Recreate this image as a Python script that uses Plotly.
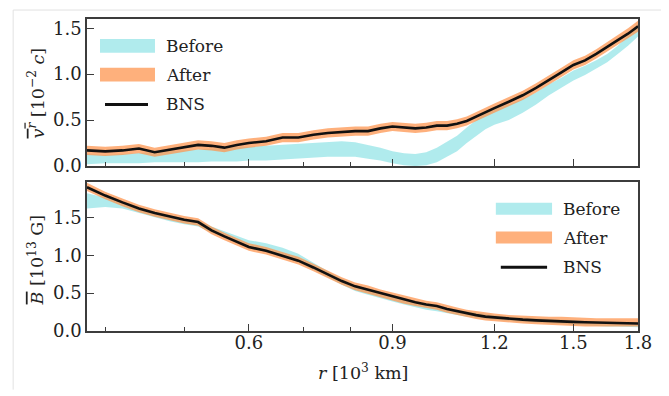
import plotly.graph_objects as go
import math

# ---------------- data ----------------
r = [0.38, 0.40, 0.42, 0.44, 0.46, 0.48, 0.50, 0.52, 0.54, 0.56, 0.58, 0.60,
     0.63, 0.66, 0.69, 0.72, 0.75, 0.78, 0.81, 0.84, 0.87, 0.90, 0.93, 0.96,
     0.99, 1.02, 1.05, 1.08, 1.11, 1.14, 1.17, 1.20, 1.25, 1.30, 1.35, 1.40,
     1.45, 1.50, 1.55, 1.60, 1.65, 1.70, 1.75, 1.80]

# top panel: mean radial velocity [1e-2 c]
v_bns = [0.17, 0.16, 0.17, 0.19, 0.15, 0.18, 0.21, 0.23, 0.22, 0.20, 0.23, 0.25,
         0.27, 0.31, 0.31, 0.34, 0.36, 0.37, 0.38, 0.38, 0.41, 0.43, 0.42, 0.41,
         0.42, 0.44, 0.44, 0.46, 0.49, 0.54, 0.58, 0.63, 0.70, 0.77, 0.85, 0.94,
         1.02, 1.10, 1.15, 1.22, 1.30, 1.37, 1.44, 1.52]
v_after_lo = [0.12, 0.11, 0.12, 0.14, 0.10, 0.13, 0.16, 0.18, 0.17, 0.15, 0.18, 0.20,
              0.22, 0.26, 0.26, 0.29, 0.31, 0.32, 0.33, 0.33, 0.36, 0.38, 0.37, 0.36,
              0.37, 0.39, 0.39, 0.41, 0.44, 0.49, 0.53, 0.58, 0.65, 0.72, 0.80, 0.89,
              0.97, 1.05, 1.10, 1.17, 1.25, 1.32, 1.39, 1.46]
v_after_hi = [0.22, 0.21, 0.22, 0.24, 0.20, 0.23, 0.26, 0.28, 0.27, 0.25, 0.28, 0.30,
              0.32, 0.36, 0.36, 0.39, 0.41, 0.42, 0.43, 0.43, 0.46, 0.48, 0.47, 0.46,
              0.47, 0.49, 0.49, 0.51, 0.54, 0.59, 0.63, 0.68, 0.75, 0.82, 0.90, 0.99,
              1.07, 1.15, 1.20, 1.27, 1.35, 1.42, 1.50, 1.58]
v_before_lo = [0.02, 0.03, 0.03, 0.03, 0.04, 0.04, 0.04, 0.04, 0.05, 0.05, 0.05, 0.06,
               0.06, 0.07, 0.08, 0.09, 0.10, 0.10, 0.10, 0.08, 0.06, 0.03, 0.01, 0.00,
               0.01, 0.04, 0.10, 0.16, 0.25, 0.33, 0.40, 0.45, 0.50, 0.58, 0.67, 0.77,
               0.85, 0.93, 0.99, 1.06, 1.13, 1.22, 1.31, 1.41]
v_before_hi = [0.13, 0.12, 0.13, 0.14, 0.15, 0.16, 0.17, 0.18, 0.19, 0.20, 0.21, 0.21,
               0.22, 0.23, 0.24, 0.25, 0.26, 0.27, 0.26, 0.23, 0.20, 0.16, 0.14, 0.13,
               0.15, 0.20, 0.27, 0.33, 0.42, 0.50, 0.58, 0.63, 0.67, 0.73, 0.80, 0.89,
               0.96, 1.04, 1.09, 1.15, 1.22, 1.31, 1.42, 1.55]

# bottom panel: mean magnetic field [1e13 G]
b_bns = [1.90, 1.79, 1.70, 1.62, 1.56, 1.51, 1.47, 1.44, 1.33, 1.25, 1.18, 1.11,
         1.06, 0.99, 0.93, 0.84, 0.75, 0.66, 0.59, 0.545, 0.50, 0.455, 0.415, 0.38,
         0.35, 0.33, 0.29, 0.26, 0.23, 0.21, 0.19, 0.18, 0.16, 0.15, 0.14, 0.13,
         0.125, 0.12, 0.115, 0.11, 0.105, 0.10, 0.10, 0.10]
b_after_lo = [1.85, 1.74, 1.65, 1.57, 1.51, 1.46, 1.42, 1.39, 1.28, 1.20, 1.13, 1.06,
              1.01, 0.94, 0.88, 0.79, 0.70, 0.61, 0.54, 0.49, 0.45, 0.40, 0.36, 0.33,
              0.30, 0.28, 0.24, 0.21, 0.18, 0.16, 0.14, 0.13, 0.11, 0.10, 0.09, 0.08,
              0.07, 0.07, 0.06, 0.06, 0.06, 0.06, 0.06, 0.06]
b_after_hi = [1.96, 1.84, 1.75, 1.67, 1.61, 1.56, 1.52, 1.49, 1.38, 1.30, 1.23, 1.16,
              1.11, 1.04, 0.98, 0.89, 0.80, 0.71, 0.64, 0.60, 0.55, 0.51, 0.47, 0.43,
              0.40, 0.38, 0.34, 0.31, 0.28, 0.26, 0.24, 0.23, 0.21, 0.20, 0.20, 0.19,
              0.19, 0.18, 0.18, 0.17, 0.17, 0.17, 0.17, 0.17]
b_before_lo = [1.62, 1.64, 1.62, 1.56, 1.50, 1.45, 1.41, 1.38, 1.30, 1.24, 1.17, 1.10,
               1.05, 0.99, 0.91, 0.81, 0.71, 0.61, 0.53, 0.48, 0.43, 0.39, 0.35, 0.31,
               0.28, 0.26, 0.23, 0.21, 0.19, 0.17, 0.16, 0.15, 0.13, 0.12, 0.11, 0.10,
               0.09, 0.08, 0.07, 0.07, 0.06, 0.06, 0.05, 0.05]
b_before_hi = [1.82, 1.76, 1.71, 1.64, 1.58, 1.53, 1.49, 1.46, 1.38, 1.32, 1.26, 1.20,
               1.16, 1.10, 1.02, 0.90, 0.79, 0.69, 0.61, 0.55, 0.50, 0.46, 0.42, 0.38,
               0.35, 0.33, 0.30, 0.28, 0.26, 0.24, 0.22, 0.21, 0.19, 0.18, 0.17, 0.16,
               0.15, 0.14, 0.13, 0.13, 0.12, 0.12, 0.11, 0.11]

x_tickvals = [0.6, 0.9, 1.2, 1.5, 1.8]
x_ticktext = ["0.6", "0.9", "1.2", "1.5", "1.8"]
x_minor = [0.4, 0.5, 0.7, 0.8]
y_tickvals = [0.0, 0.5, 1.0, 1.5]
legend_names = ["Before", "After", "BNS"]

# ---------------- style ----------------
FONT = "DejaVu Serif"
FS_TICK = 18
FS_LEG = 17
FS_TITLE = 17.5
CYAN = "rgba(127,222,226,0.62)"
ORANGE = "rgba(253,150,80,0.75)"
BLACK = "#111111"
AX = "#3c3c3c"
TXT = "#222222"

fig = go.Figure()

def add_panel(xa, ya, before_lo, before_hi, after_lo, after_hi, bns):
    fig.add_trace(go.Scatter(x=r, y=before_lo, mode="lines", line=dict(width=0),
                             showlegend=False, xaxis=xa, yaxis=ya, hoverinfo="skip"))
    fig.add_trace(go.Scatter(x=r, y=before_hi, mode="lines", line=dict(width=0),
                             fill="tonexty", fillcolor=CYAN, name="Before",
                             showlegend=False, xaxis=xa, yaxis=ya))
    fig.add_trace(go.Scatter(x=r, y=after_lo, mode="lines", line=dict(width=0),
                             showlegend=False, xaxis=xa, yaxis=ya, hoverinfo="skip"))
    fig.add_trace(go.Scatter(x=r, y=after_hi, mode="lines", line=dict(width=0),
                             fill="tonexty", fillcolor=ORANGE, name="After",
                             showlegend=False, xaxis=xa, yaxis=ya))
    fig.add_trace(go.Scatter(x=r, y=bns, mode="lines", line=dict(color=BLACK, width=2.6),
                             name="BNS", showlegend=False, xaxis=xa, yaxis=ya))

add_panel("x", "y", v_before_lo, v_before_hi, v_after_lo, v_after_hi, v_bns)
add_panel("x2", "y2", b_before_lo, b_before_hi, b_after_lo, b_after_hi, b_bns)

xr = [math.log10(0.38), math.log10(1.8)]
common_x = dict(type="log", range=xr, tickvals=x_tickvals, ticktext=x_ticktext,
                ticks="inside", ticklen=7, tickwidth=1.3, tickcolor=AX,
                minor=dict(tickvals=x_minor, ticks="inside", ticklen=4, tickwidth=1.1, tickcolor=AX),
                showline=True, linecolor=AX, linewidth=1.6, mirror=True,
                showgrid=False, zeroline=False, ticklabelstandoff=-5,
                tickfont=dict(family=FONT, size=FS_TICK, color=TXT))
common_y = dict(tickvals=y_tickvals, tickformat=".1f", ticks="inside", ticklen=7,
                tickwidth=1.3, tickcolor=AX, showline=True, linecolor=AX, linewidth=1.6,
                mirror=True, showgrid=False, zeroline=False,
                tickfont=dict(family=FONT, size=FS_TICK, color=TXT))

# page body has an 8px margin: figure is shifted by 8px right and down
fig.update_layout(
    width=661, height=388,
    margin=dict(l=79, r=31, t=9, b=65),
    paper_bgcolor="white", plot_bgcolor="white",
    font=dict(family=FONT, size=FS_LEG, color=TXT),
    xaxis=dict(common_x, domain=[0, 1], anchor="y", showticklabels=False),
    yaxis=dict(common_y, domain=[0.5287, 1], range=[0, 1.6], anchor="x"),
    xaxis2=dict(common_x, domain=[0, 1], anchor="y2", matches="x"),
    yaxis2=dict(common_y, domain=[0, 0.4777], range=[0, 1.97], anchor="x2"),
    showlegend=False,
)

# axis titles
fig.add_annotation(text='<span style="text-decoration:overline"><i>v</i><sup><i>r</i></sup></span> [10<sup>−2</sup> <i>c</i>]',
                   xref="paper", x=-0.0926, yref="y domain", y=0.5, textangle=-90,
                   showarrow=False, xanchor="center", yanchor="middle",
                   font=dict(family=FONT, size=FS_TITLE, color=TXT))
fig.add_annotation(text='<span style="text-decoration:overline"><i>B</i></span> [10<sup>13</sup> G]',
                   xref="paper", x=-0.0926, yref="y2 domain", y=0.48, textangle=-90,
                   showarrow=False, xanchor="center", yanchor="middle",
                   font=dict(family=FONT, size=FS_TITLE, color=TXT))
fig.add_annotation(text='<i>r</i> [10<sup>3</sup> km]',
                   xref="x2 domain", x=0.5, yref="paper", y=-0.1306,
                   showarrow=False, xanchor="center", yanchor="middle",
                   font=dict(family=FONT, size=FS_TITLE, color=TXT))

# manual legends (swatch + label)
def add_legend(xd, yd, sx0, sx1, lx0, lx1, tx, rows, half):
    cols = [CYAN, ORANGE]
    for i, name in enumerate(legend_names):
        yc = rows[i]
        if i < 2:
            fig.add_shape(type="rect", xref=xd, yref=yd, x0=sx0, x1=sx1,
                          y0=yc - half, y1=yc + half, fillcolor=cols[i], line=dict(width=0))
        else:
            fig.add_shape(type="line", xref=xd, yref=yd, x0=lx0, x1=lx1, y0=yc, y1=yc,
                          line=dict(color=BLACK, width=3))
        fig.add_annotation(text=name, xref=xd, yref=yd, x=tx, y=yc, showarrow=False,
                           xanchor="left", yanchor="middle",
                           font=dict(family=FONT, size=FS_LEG, color=TXT))

add_legend("x domain", "y domain", 0.0236, 0.1234, 0.0327, 0.1107, 0.140,
           [0.8176, 0.6216, 0.419], 0.047)
add_legend("x2 domain", "y2 domain", 0.742, 0.844, 0.751, 0.835, 0.860,
           [0.82, 0.627, 0.427], 0.04)

# light outer frame
fig.add_shape(type="path", xref="paper", yref="paper",
              path="M -0.134,-0.188 L -0.134,1.0287 L 1.0436,1.0287 L 1.0436,-0.188",
              line=dict(color="#e2e2e2", width=1))

fig.write_html("out.html")
